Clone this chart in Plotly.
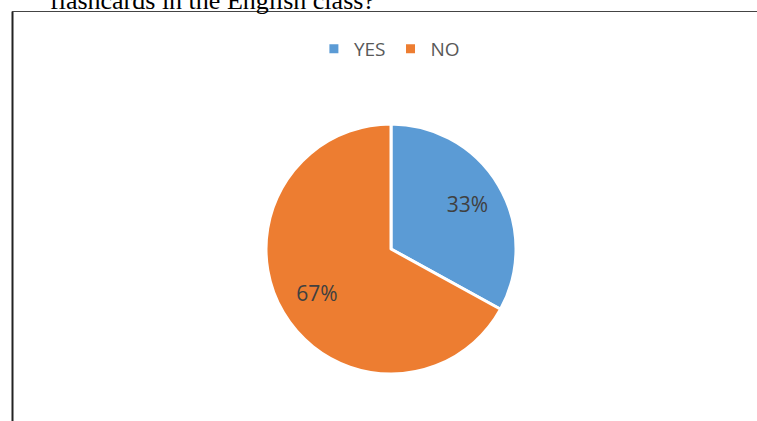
import plotly.graph_objects as go

labels = ["YES", "NO"]
values = [33, 67]
colors = ["#5B9BD5", "#ED7D31"]
caption = "flashcards in the English class?"

W, H = 757, 421
CX, CY, R = 391, 249, 125  # pie centre and radius in pixels


def dom(scale):
    r = R * scale
    return dict(x=[(CX - r) / W, (CX + r) / W], y=[1 - (CY + r) / H, 1 - (CY - r) / H])


label_font = dict(family="Open Sans, Liberation Sans, sans-serif", size=21, color="#404040")
clear = ["rgba(0,0,0,0)"] * len(values)

fig = go.Figure()
fig.add_trace(go.Pie(
    labels=labels, values=values, sort=False, direction="clockwise", rotation=0,
    marker=dict(colors=colors, line=dict(color="white", width=3)),
    textinfo="none",
    domain=dom(1.0),
    hoverinfo="label+percent",
))
# transparent overlays that only carry the percentage labels, a bit further out
for i, sc in enumerate([1.32, 1.375]):
    tt = ["" for _ in values]
    tt[i] = "%{percent:.0%}"
    fig.add_trace(go.Pie(
        labels=labels, values=values, sort=False, direction="clockwise", rotation=0,
        marker=dict(colors=clear, line=dict(color="rgba(0,0,0,0)", width=0)),
        texttemplate=tt,
        textposition="inside",
        insidetextorientation="horizontal",
        textfont=label_font,
        domain=dom(sc),
        showlegend=False,
        hoverinfo="skip",
    ))

fig.update_layout(
    width=W, height=H,
    margin=dict(l=0, r=0, t=0, b=0),
    paper_bgcolor="white",
    plot_bgcolor="white",
    showlegend=True,
    legend=dict(
        orientation="h",
        x=0.5144, xanchor="center",
        y=1 - 30 / H, yanchor="top",
        font=dict(family="Open Sans, Liberation Sans, sans-serif", size=19, color="#595959"),
        itemwidth=30,
        traceorder="normal",
    ),
    shapes=[
        dict(type="line", xref="paper", yref="paper",
             x0=12.5 / W, x1=12.5 / W, y0=-0.05, y1=1 - 11.5 / H,
             line=dict(color="#222222", width=2)),
        dict(type="line", xref="paper", yref="paper",
             x0=12 / W, x1=1.01, y0=1 - 11.5 / H, y1=1 - 11.5 / H,
             line=dict(color="#444444", width=1.2)),
    ],
    annotations=[
        dict(text=caption, xref="paper", yref="paper",
             x=48 / W, xanchor="left", y=1 - 17 / H, yanchor="bottom",
             showarrow=False,
             font=dict(family="Liberation Serif, Times New Roman, serif", size=26, color="black")),
    ],
)

fig.write_html("out.html", config={"displayModeBar": False},
               post_script="document.body.style.margin='0';document.body.style.overflow='hidden';")
